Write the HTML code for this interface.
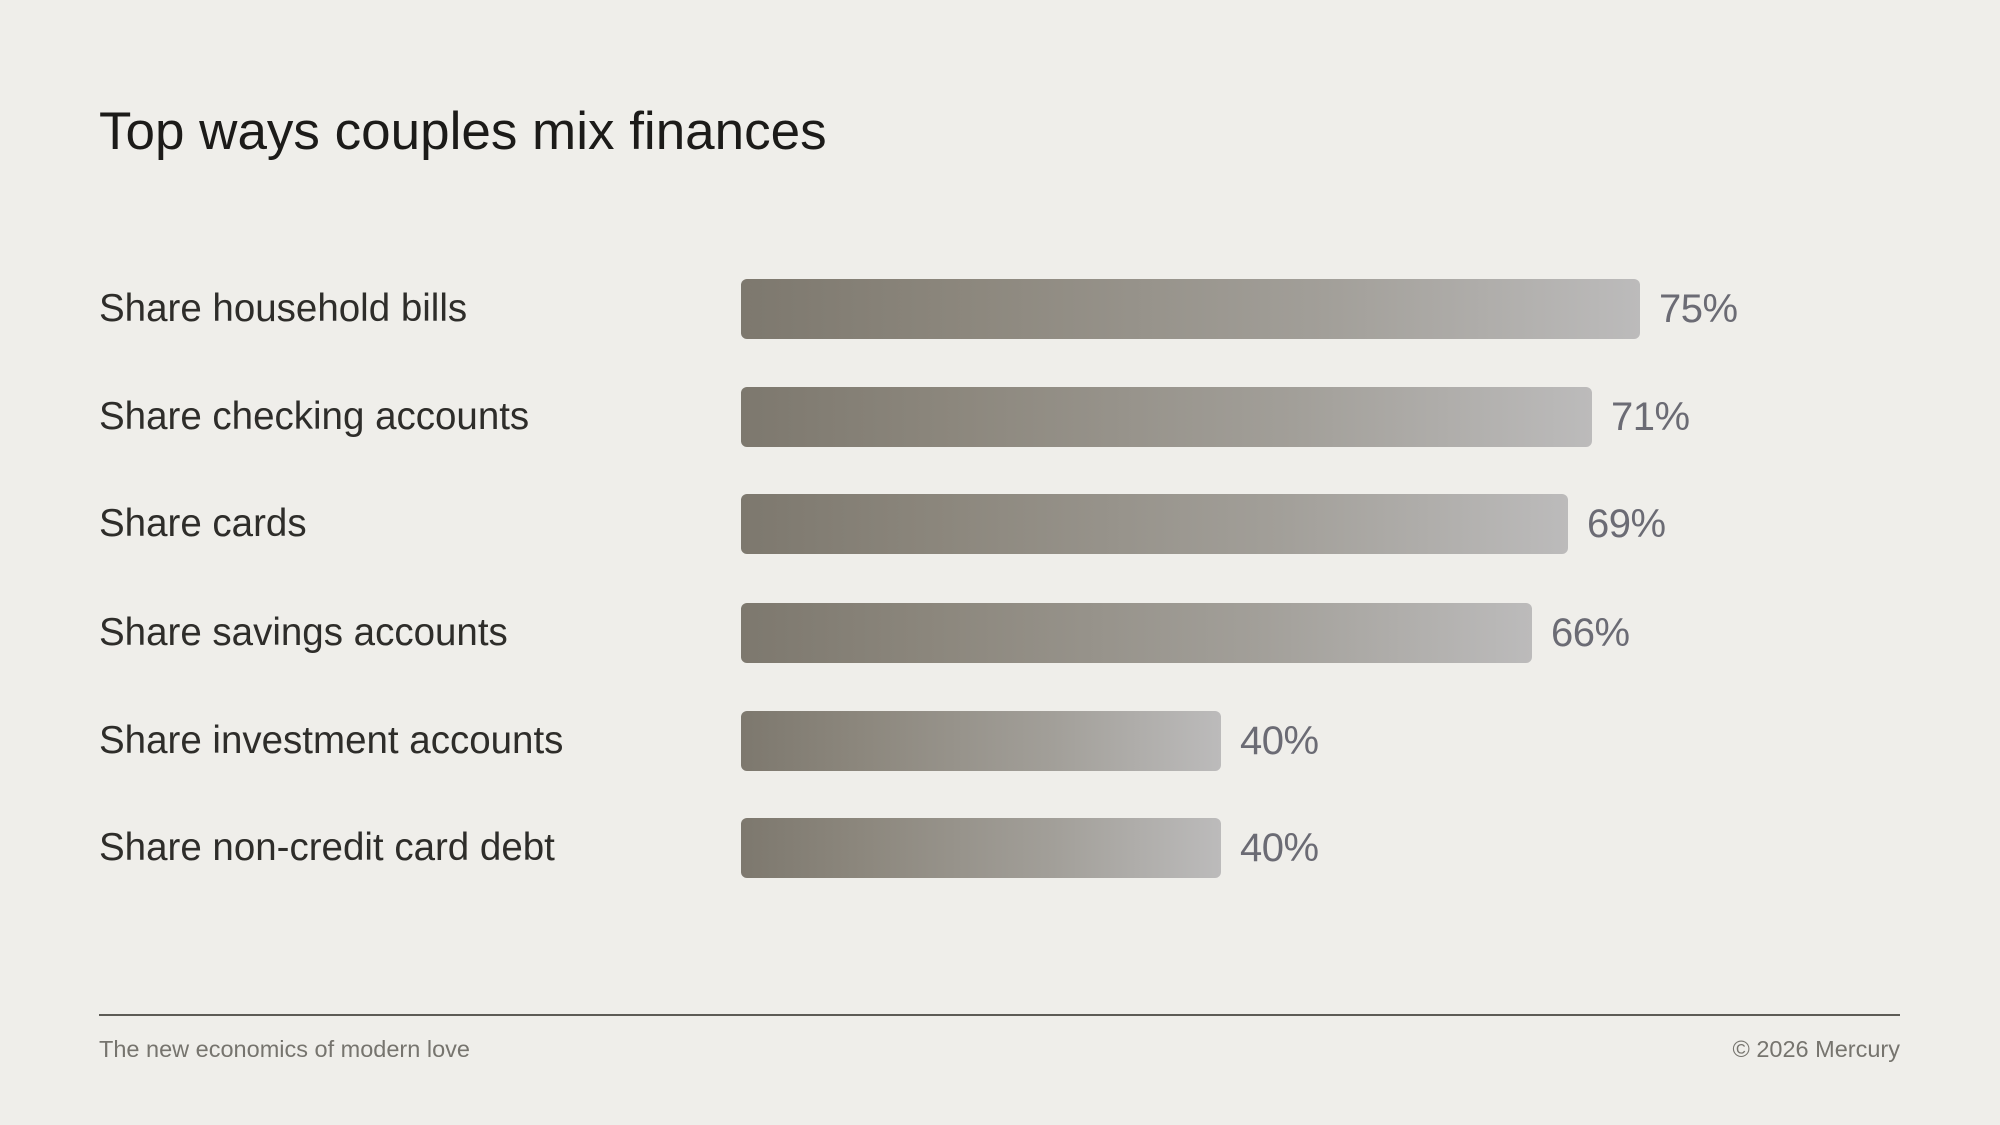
<!DOCTYPE html>
<html><head><meta charset="utf-8"><style>
html,body{margin:0;padding:0;}
body{width:2000px;height:1125px;background:#efeeea;position:relative;overflow:hidden;font-family:"Liberation Sans",sans-serif;}
.t{position:absolute;left:99px;top:101px;font-size:53px;color:#1c1b19;letter-spacing:0px;}
.l{position:absolute;left:99px;font-size:38.5px;color:#2e2d2a;letter-spacing:0px;line-height:60px;}
.b{position:absolute;left:741px;height:60px;border-radius:6px;background:linear-gradient(90deg,#7d786e 0%,#8c877d 25%,#a29f99 65%,#bcbbbb 100%);}
.v{position:absolute;font-size:40px;color:#6b6b74;line-height:60px;letter-spacing:-0.5px;}
.line{position:absolute;left:99px;width:1801px;top:1014px;height:2px;background:#5d5b56;}
.f{position:absolute;top:1036px;font-size:23.5px;color:#76746e;}
</style></head><body>
<div class="t">Top ways couples mix finances</div>

<div class="l" style="top:279px">Share household bills</div>
<div class="b" style="top:279px;width:899px"></div>
<div class="v" style="top:279px;left:1659px">75%</div>

<div class="l" style="top:387px">Share checking accounts</div>
<div class="b" style="top:387px;width:851px"></div>
<div class="v" style="top:387px;left:1611px">71%</div>

<div class="l" style="top:494px">Share cards</div>
<div class="b" style="top:494px;width:827px"></div>
<div class="v" style="top:494px;left:1587px">69%</div>

<div class="l" style="top:603px">Share savings accounts</div>
<div class="b" style="top:603px;width:791px"></div>
<div class="v" style="top:603px;left:1551px">66%</div>

<div class="l" style="top:711px">Share investment accounts</div>
<div class="b" style="top:711px;width:480px"></div>
<div class="v" style="top:711px;left:1240px">40%</div>

<div class="l" style="top:818px">Share non-credit card debt</div>
<div class="b" style="top:818px;width:480px"></div>
<div class="v" style="top:818px;left:1240px">40%</div>

<div class="line"></div>
<div class="f" style="left:99px">The new economics of modern love</div>
<div class="f" style="right:100px">© 2026 Mercury</div>
</body></html>
